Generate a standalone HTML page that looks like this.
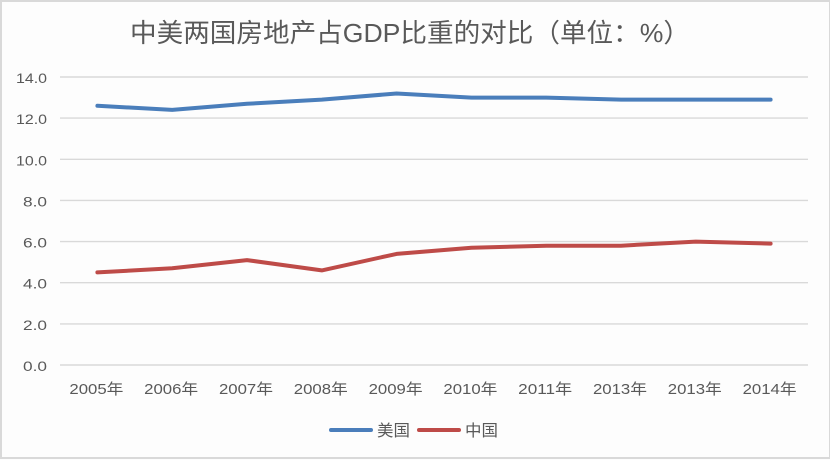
<!DOCTYPE html>
<html>
<head>
<meta charset="utf-8">
<style>
html,body{margin:0;padding:0;background:#fff;}
svg{display:block;}
text{font-family:"Liberation Sans","Noto Sans CJK SC",sans-serif;fill:#595959;}
</style>
</head>
<body>
<svg width="832" height="460" viewBox="0 0 832 460" xmlns="http://www.w3.org/2000/svg">
  <rect x="0" y="0" width="832" height="460" fill="#fdfdfd"/>
  <!-- border -->
  <rect x="1" y="1" width="829" height="457" fill="none" stroke="#d9d9d9" stroke-width="2"/>
  <rect x="830" y="0" width="2" height="460" fill="#ffffff"/>

  <!-- title -->
  <text x="410" y="42" font-size="26" text-anchor="middle" textLength="560" lengthAdjust="spacingAndGlyphs">中美两国房地产占GDP比重的对比（单位：%）</text>

  <!-- gridlines -->
  <g stroke="#d9d9d9" stroke-width="1.4">
    <line x1="60" y1="77" x2="808" y2="77"/>
    <line x1="60" y1="118.1" x2="808" y2="118.1"/>
    <line x1="60" y1="159.3" x2="808" y2="159.3"/>
    <line x1="60" y1="200.4" x2="808" y2="200.4"/>
    <line x1="60" y1="241.6" x2="808" y2="241.6"/>
    <line x1="60" y1="282.7" x2="808" y2="282.7"/>
    <line x1="60" y1="323.9" x2="808" y2="323.9"/>
    <line x1="60" y1="365" x2="808" y2="365"/>
  </g>

  <!-- y labels -->
  <g font-size="14" text-anchor="end">
    <text x="47" y="83" textLength="31" lengthAdjust="spacingAndGlyphs">14.0</text>
    <text x="47" y="124.1" textLength="31" lengthAdjust="spacingAndGlyphs">12.0</text>
    <text x="47" y="165.3" textLength="31" lengthAdjust="spacingAndGlyphs">10.0</text>
    <text x="47" y="206.4" textLength="24" lengthAdjust="spacingAndGlyphs">8.0</text>
    <text x="47" y="247.6" textLength="24" lengthAdjust="spacingAndGlyphs">6.0</text>
    <text x="47" y="288.7" textLength="24" lengthAdjust="spacingAndGlyphs">4.0</text>
    <text x="47" y="329.9" textLength="24" lengthAdjust="spacingAndGlyphs">2.0</text>
    <text x="47" y="371" textLength="24" lengthAdjust="spacingAndGlyphs">0.0</text>
  </g>

  <!-- x labels -->
  <g font-size="15" text-anchor="middle">
    <text x="96.4" y="394" textLength="54" lengthAdjust="spacingAndGlyphs">2005年</text>
    <text x="171.2" y="394" textLength="54" lengthAdjust="spacingAndGlyphs">2006年</text>
    <text x="246" y="394" textLength="54" lengthAdjust="spacingAndGlyphs">2007年</text>
    <text x="320.8" y="394" textLength="54" lengthAdjust="spacingAndGlyphs">2008年</text>
    <text x="395.6" y="394" textLength="54" lengthAdjust="spacingAndGlyphs">2009年</text>
    <text x="470.4" y="394" textLength="54" lengthAdjust="spacingAndGlyphs">2010年</text>
    <text x="545.2" y="394" textLength="54" lengthAdjust="spacingAndGlyphs">2011年</text>
    <text x="620" y="394" textLength="54" lengthAdjust="spacingAndGlyphs">2013年</text>
    <text x="694.8" y="394" textLength="54" lengthAdjust="spacingAndGlyphs">2013年</text>
    <text x="769.6" y="394" textLength="54" lengthAdjust="spacingAndGlyphs">2014年</text>
  </g>

  <!-- US series -->
  <polyline fill="none" stroke="#4a7ebb" stroke-width="4" stroke-linejoin="round" stroke-linecap="round"
    points="97.4,105.8 172.2,109.9 247,103.8 321.8,99.6 396.6,93.5 471.4,97.6 546.2,97.6 621,99.6 695.8,99.6 770.6,99.6"/>
  <!-- China series -->
  <polyline fill="none" stroke="#be4b48" stroke-width="4" stroke-linejoin="round" stroke-linecap="round"
    points="97.4,272.4 172.2,268.3 247,260.1 321.8,270.4 396.6,253.9 471.4,247.8 546.2,245.7 621,245.7 695.8,241.6 770.6,243.6"/>

  <!-- legend -->
  <line x1="331" y1="430" x2="371" y2="430" stroke="#4a7ebb" stroke-width="4" stroke-linecap="round"/>
  <text x="377" y="436" font-size="16" textLength="33" lengthAdjust="spacingAndGlyphs">美国</text>
  <line x1="419" y1="430" x2="459" y2="430" stroke="#be4b48" stroke-width="4" stroke-linecap="round"/>
  <text x="465" y="436" font-size="16" textLength="33" lengthAdjust="spacingAndGlyphs">中国</text>
</svg>
</body>
</html>
